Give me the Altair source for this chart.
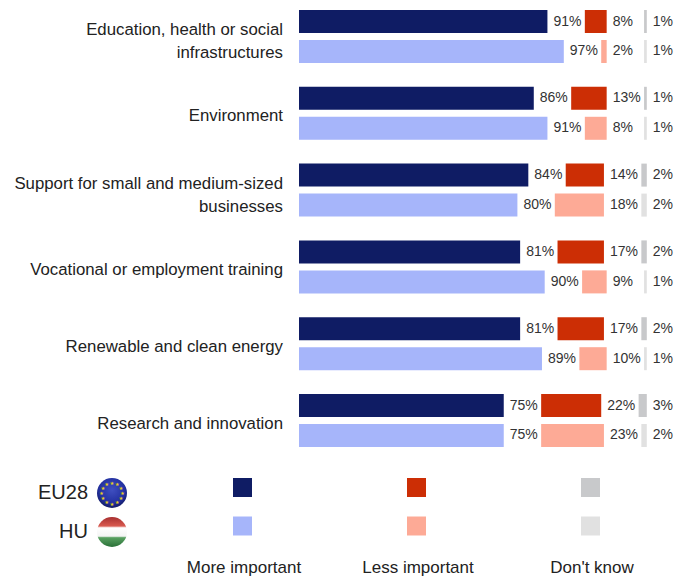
import altair as alt
import pandas as pd

FONT = "Liberation Sans"
TXT = "#333333"

categories = [
    "Education, health or social\ninfrastructures",
    "Environment",
    "Support for small and medium-sized\nbusinesses",
    "Vocational or employment training",
    "Renewable and clean energy",
    "Research and innovation",
]
series = ["EU28", "HU"]
answers = ["More important", "Less important", "Don't know"]
eu_more = [91, 86, 84, 81, 81, 75]
eu_less = [8, 13, 14, 17, 17, 22]
eu_dk = [1, 1, 2, 2, 2, 3]
hu_more = [97, 91, 80, 90, 89, 75]
hu_less = [2, 8, 18, 9, 10, 23]
hu_dk = [1, 1, 2, 1, 1, 2]
colors = {
    "EU28|More important": "#0f1c64", "HU|More important": "#a6b5fa",
    "EU28|Less important": "#cc2e05", "HU|Less important": "#fdaa96",
    "EU28|Don't know": "#c8c9cb", "HU|Don't know": "#e1e1e1",
}
GAP = 13.7

rows = []
for s, m, l, d in [("EU28", eu_more, eu_less, eu_dk), ("HU", hu_more, hu_less, hu_dk)]:
    for c, a, b, e in zip(categories, m, l, d):
        start = 0
        for ans, v in zip(answers, (a, b, e)):
            rows.append(dict(cat=c, series=s, answer=ans, key=f"{s}|{ans}", start=start,
                             end=start + v, label=f"{v}%"))
            start += v + GAP
df = pd.DataFrame(rows)

xs = alt.Scale(domain=[0, 127.4], range=[291, 291 + 127.4 * 2.73])
ys = alt.Scale(type="band", domain=categories, range=[2, 439], paddingInner=0.31, paddingOuter=0)
yo = alt.Scale(domain=series, paddingInner=0.233, paddingOuter=0)
col = alt.Scale(domain=list(colors), range=list(colors.values()))

X = alt.X("start:Q", scale=xs, axis=None)
Y = alt.Y("cat:N", scale=ys, axis=None)
YO = alt.YOffset("series:N", scale=yo)

bars = alt.Chart(df).mark_bar(cornerRadius=0).encode(
    x=X, x2="end:Q", y=Y, yOffset=YO,
    color=alt.Color("key:N", scale=col, legend=None),
)
values = alt.Chart(df).mark_text(font=FONT, fontSize=14, color=TXT, align="left", dx=6, baseline="middle").encode(
    x=alt.X("end:Q", scale=xs, axis=None), y=Y, yOffset=YO, text="label:N",
)
cat_df = pd.DataFrame({"cat": categories})
cat_df["two"] = cat_df["cat"].str.contains("\n")
cat_one = alt.Chart(cat_df[~cat_df.two]).mark_text(
    font=FONT, fontSize=16.8, color="#222222", align="right", baseline="middle", dy=3,
).encode(x=alt.value(275), y=Y, text="cat:N")
cat_two = alt.Chart(cat_df[cat_df.two]).mark_text(
    font=FONT, fontSize=16.8, color="#222222", align="right", baseline="middle", lineBreak="\n", lineHeight=23, dy=-6.5,
).encode(x=alt.value(275), y=Y, text="cat:N")

# legend
lx = alt.Scale(type="point", domain=answers, range=[234.5, 582.5], padding=0)
ly = alt.Scale(type="point", domain=series, range=[479.5, 518], padding=0)
leg_df = df[df.cat == categories[0]]
squares = alt.Chart(leg_df).mark_square(size=361, opacity=1).encode(
    x=alt.X("answer:N", scale=lx, axis=None),
    y=alt.Y("series:N", scale=ly, axis=None),
    color=alt.Color("key:N", scale=col, legend=None),
)
ans_text = alt.Chart(pd.DataFrame({"answer": answers})).mark_text(
    font=FONT, fontSize=17, color="#222222", baseline="alphabetic",
).encode(x=alt.X("answer:N", scale=alt.Scale(type="point", domain=answers, range=[236, 584], padding=0), axis=None),
         y=alt.value(565), text="answer:N")
ser_text = alt.Chart(pd.DataFrame({"series": series})).mark_text(
    font=FONT, fontSize=20, color="#222222", align="right", baseline="middle",
).encode(x=alt.value(80),
         y=alt.Y("series:N", scale=alt.Scale(type="point", domain=series, range=[485, 524], padding=0), axis=None),
         text="series:N")

# flags
eu_disc = alt.Chart(pd.DataFrame({"f": ["EU28"]})).mark_circle(
    size=900, opacity=1,
    color=alt.Gradient(gradient="radial", x1=0.5, y1=0.4, x2=0.5, y2=0.4, r1=0, r2=0.62,
                       stops=[alt.GradientStop(offset=0, color="#3f4fc0"),
                              alt.GradientStop(offset=0.7, color="#2230a0"),
                              alt.GradientStop(offset=1, color="#10185c")]),
).encode(x=alt.value(104), y=alt.value(485))
star_positions = list(range(12))
eu_stars = alt.Chart(pd.DataFrame({"p": star_positions})).mark_text(
    text="★", fontSize=5, color="#e8d020", font="DejaVu Sans", radius=10.5, x=104, y=485,
).encode(theta=alt.Theta("p:Q", scale=alt.Scale(domain=[0, 12], range=[0, 6.2832])))
hu_disc = alt.Chart(pd.DataFrame({"f": ["HU"]})).mark_circle(
    size=900, opacity=1,
    color=alt.Gradient(gradient="linear", x1=0, y1=0, x2=0, y2=1,
                       stops=[alt.GradientStop(offset=0, color="#a83030"),
                              alt.GradientStop(offset=0.3, color="#d85a50"),
                              alt.GradientStop(offset=0.36, color="#ffffff"),
                              alt.GradientStop(offset=0.64, color="#f4f4f4"),
                              alt.GradientStop(offset=0.69, color="#58a060"),
                              alt.GradientStop(offset=1, color="#2a7038")]),
).encode(x=alt.value(104), y=alt.value(524))

chart = alt.layer(bars, values, cat_one, cat_two, squares, ans_text, ser_text, eu_disc, eu_stars, hu_disc).resolve_scale(
    x="independent", y="independent"
).properties(
    width=674, height=568, padding=0, autosize=alt.AutoSizeParams(type="none"),
).configure_view(stroke=None)

chart.save("out.html", embed_options={"renderer": "svg", "actions": False})
